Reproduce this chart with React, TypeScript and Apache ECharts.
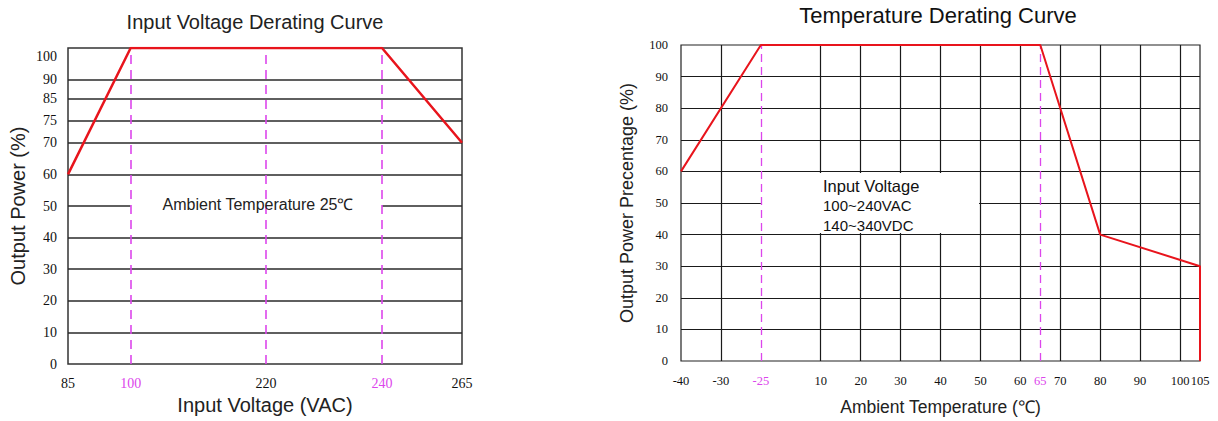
import React, { useEffect, useRef } from "react";
import * as echarts from "echarts";

// ---------- data: Input Voltage Derating Curve ----------
const VOLT_TICKS = [85, 100, 220, 240, 265];
const VOLT_MARKED = [100, 220, 240];
const VOLT_LABEL_MARKED = [100, 240];
const VOLT_CURVE_X = [85, 100, 240, 265];
const VOLT_CURVE_Y = [60, 100, 100, 70];
const POWER_TICKS_L = [0, 10, 20, 30, 40, 50, 60, 70, 75, 85, 90, 100];

// ---------- data: Temperature Derating Curve ----------
const TEMP_TICKS = [-40, -30, -25, 10, 20, 30, 40, 50, 60, 65, 70, 80, 90, 100, 105];
const TEMP_MARKED = [-25, 65];
const TEMP_GRID = [-30, 10, 20, 30, 40, 50, 60, 70, 80, 90, 100];
const TEMP_CURVE_X = [-40, -25, 65, 80, 105, 105];
const TEMP_CURVE_Y = [60, 100, 100, 40, 30, 0];
const POWER_TICKS_R = [0, 10, 20, 30, 40, 50, 60, 70, 80, 90, 100];

// ---------- schematic (non-linear) axis scales of the original drawing ----------
const VOLT_SCALE_DOMAIN = [85, 100, 220, 240, 265];
const VOLT_SCALE_RANGE = [0, 15.9, 50.25, 79.7, 100];
const POWER_L_SCALE_DOMAIN = [0, 70, 75, 85, 90, 100];
const POWER_L_SCALE_RANGE = [0, 70, 77, 84, 90, 100];
const TEMP_SCALE_DOMAIN = [-40, -30, -25, 10, 105];
const TEMP_SCALE_RANGE = [0, 1, 2, 3.5, 13];

function piecewise(domain: number[], range: number[]) {
  return (v: number) => {
    for (let i = 0; i < domain.length - 1; i++) {
      if (v <= domain[i + 1] || i === domain.length - 2) {
        const t = (v - domain[i]) / (domain[i + 1] - domain[i]);
        return range[i] + t * (range[i + 1] - range[i]);
      }
    }
    return range[range.length - 1];
  };
}
const mapV = piecewise(VOLT_SCALE_DOMAIN, VOLT_SCALE_RANGE);
const mapPL = piecewise(POWER_L_SCALE_DOMAIN, POWER_L_SCALE_RANGE);
const mapT = piecewise(TEMP_SCALE_DOMAIN, TEMP_SCALE_RANGE);

const SANS = "'Liberation Sans', Arial, sans-serif";
const SERIF = "'Liberation Serif', 'Times New Roman', serif";
const MAGENTA = "#dc46ec";
const RED = "#e8141c";

function labelFor(ticks: number[], map: (v: number) => number, marked: number[], lowered: number[] = []) {
  return (val: number) => {
    let best = ticks[0];
    let bd = Infinity;
    for (const t of ticks) {
      const d = Math.abs(map(t) - val);
      if (d < bd) {
        bd = d;
        best = t;
      }
    }
    if (lowered.includes(best)) return `{t|${best}}`;
    return marked.includes(best) ? `{m|${best}}` : `{n|${best}}`;
  };
}

export default function App() {
  const ref = useRef<HTMLDivElement>(null);

  useEffect(() => {
    document.body.style.margin = "0";
    if (!ref.current) return;
    const chart = echarts.init(ref.current, undefined, { renderer: "svg" });

    const richL = {
      n: { color: "#111", fontFamily: SERIF, fontSize: 14 },
      m: { color: MAGENTA, fontFamily: SERIF, fontSize: 14 },
      t: { color: "#111", fontFamily: SERIF, fontSize: 14, padding: [16, 0, 0, 0] },
    };
    const richR = {
      n: { color: "#111", fontFamily: SERIF, fontSize: 12.5 },
      m: { color: MAGENTA, fontFamily: SERIF, fontSize: 12.5 },
    };

    const option: any = {
      animation: false,
      backgroundColor: "#fff",
      grid: [
        { left: 68, top: 48, width: 394, height: 316, show: true, borderColor: "#333", borderWidth: 1.5, backgroundColor: "transparent" },
        { left: 681, top: 45, width: 519, height: 319, show: true, borderColor: "#222", borderWidth: 1.2, backgroundColor: "transparent" },
      ],
      xAxis: [
        {
          gridIndex: 0, type: "value", min: 0, max: 100,
          axisLine: { show: false }, axisTick: { show: false }, splitLine: { show: false },
          axisLabel: {
            customValues: VOLT_TICKS.map(mapV), margin: 12,
            formatter: labelFor(VOLT_TICKS, mapV, VOLT_LABEL_MARKED), rich: richL,
          },
          name: "Input Voltage (VAC)", nameLocation: "middle", nameGap: 31,
          nameTextStyle: { fontFamily: SANS, fontSize: 20, color: "#222" },
        },
        {
          gridIndex: 1, type: "value", min: 0, max: 13,
          axisLine: { show: false }, axisTick: { show: false }, splitLine: { show: false },
          axisLabel: {
            customValues: TEMP_TICKS.map(mapT), margin: 13,
            formatter: labelFor(TEMP_TICKS, mapT, TEMP_MARKED), rich: richR,
          },
          name: "Ambient Temperature (℃)", nameLocation: "middle", nameGap: 37,
          nameTextStyle: { fontFamily: SANS, fontSize: 17.5, color: "#222" },
        },
      ],
      yAxis: [
        {
          gridIndex: 0, type: "value", min: 0, max: 100,
          axisLine: { show: false }, axisTick: { show: false }, splitLine: { show: false },
          axisLabel: {
            customValues: POWER_TICKS_L.map(mapPL), margin: 11,
            formatter: labelFor(POWER_TICKS_L, mapPL, [], [100]), rich: richL,
          },
          name: "Output Power (%)", nameLocation: "middle", nameGap: 40,
          nameTextStyle: { fontFamily: SANS, fontSize: 20, color: "#222" },
        },
        {
          gridIndex: 1, type: "value", min: 0, max: 100, interval: 10,
          axisLine: { show: false }, axisTick: { show: false }, splitLine: { show: false },
          axisLabel: {
            customValues: POWER_TICKS_R, margin: 13,
            formatter: labelFor(POWER_TICKS_R, (v) => v, []), rich: richR,
          },
          name: "Output Power Precentage (%)", nameLocation: "middle", nameGap: 45,
          nameTextStyle: { fontFamily: SANS, fontSize: 18, color: "#222" },
        },
      ],
      series: [
        // ---- left chart ----
        {
          type: "line", xAxisIndex: 0, yAxisIndex: 0, data: [], silent: true,
          markLine: {
            silent: true, symbol: ["none", "none"], z: 1, label: { show: false },
            lineStyle: { color: "#2a2a2a", width: 1.6, type: "solid" },
            data: POWER_TICKS_L.filter((v) => v > 0 && v < 100).map((v) => ({ yAxis: mapPL(v) })),
          },
          markArea: {
            silent: true, z: 2, itemStyle: { color: "#fff" },
            data: [[{ xAxis: mapV(100), yAxis: mapPL(40) + 0.5 }, { xAxis: mapV(240), yAxis: mapPL(60) - 0.5 }]],
          },
        },
        {
          type: "line", xAxisIndex: 0, yAxisIndex: 0, data: [], silent: true,
          markLine: {
            silent: true, symbol: ["none", "none"], z: 3, label: { show: false },
            lineStyle: { color: MAGENTA, width: 1.6, type: [9, 6] },
            data: VOLT_MARKED.map((v) => ({ xAxis: mapV(v) })),
          },
        },
        {
          type: "line", xAxisIndex: 0, yAxisIndex: 0, z: 4, silent: true,
          showSymbol: false, symbol: "none",
          lineStyle: { color: RED, width: 2.5 },
          data: VOLT_CURVE_X.map((x, i) => [mapV(x), mapPL(VOLT_CURVE_Y[i])]),
        },
        // ---- right chart ----
        {
          type: "line", xAxisIndex: 1, yAxisIndex: 1, data: [], silent: true,
          markLine: {
            silent: true, symbol: ["none", "none"], z: 1, label: { show: false },
            lineStyle: { color: "#1a1a1a", width: 1.2, type: "solid" },
            data: [
              ...POWER_TICKS_R.filter((v) => v > 0 && v < 100).map((v) => ({ yAxis: v })),
              ...TEMP_GRID.map((v) => ({ xAxis: mapT(v) })),
            ],
          },
          markArea: {
            silent: true, z: 2, itemStyle: { color: "#fff" },
            data: [[{ xAxis: mapT(-25), yAxis: 40.5 }, { xAxis: mapT(50) - 0.035, yAxis: 59.5 }]],
          },
        },
        {
          type: "line", xAxisIndex: 1, yAxisIndex: 1, data: [], silent: true,
          markLine: {
            silent: true, symbol: ["none", "none"], z: 3, label: { show: false },
            lineStyle: { color: MAGENTA, width: 1.3, type: [8, 5] },
            data: TEMP_MARKED.map((v) => ({ xAxis: mapT(v) })),
          },
        },
        {
          type: "line", xAxisIndex: 1, yAxisIndex: 1, z: 4, silent: true,
          showSymbol: false, symbol: "none",
          lineStyle: { color: RED, width: 2 },
          data: TEMP_CURVE_X.map((x, i) => [mapT(x), TEMP_CURVE_Y[i]]),
        },
      ],
      graphic: [
        {
          type: "text", x: 255, y: 22, z: 10,
          style: { text: "Input Voltage Derating Curve", align: "center", verticalAlign: "middle", fontFamily: SANS, fontSize: 20, fill: "#222" },
        },
        {
          type: "text", x: 938, y: 15, z: 10,
          style: { text: "Temperature Derating Curve", align: "center", verticalAlign: "middle", fontFamily: SANS, fontSize: 22, fill: "#111" },
        },
        {
          type: "text", x: 258, y: 204, z: 10,
          style: { text: "Ambient Temperature 25℃", align: "center", verticalAlign: "middle", fontFamily: SANS, fontSize: 16, fill: "#222" },
        },
        {
          type: "text", x: 823, y: 186, z: 10,
          style: { text: "Input Voltage", align: "left", verticalAlign: "middle", fontFamily: SANS, fontSize: 16.5, fill: "#111" },
        },
        {
          type: "text", x: 823, y: 205.5, z: 10,
          style: { text: "100~240VAC", align: "left", verticalAlign: "middle", fontFamily: SANS, fontSize: 15, fill: "#111" },
        },
        {
          type: "text", x: 823, y: 225, z: 10,
          style: { text: "140~340VDC", align: "left", verticalAlign: "middle", fontFamily: SANS, fontSize: 15, fill: "#111" },
        },
      ],
    };

    chart.setOption(option);
    return () => chart.dispose();
  }, []);

  return <div ref={ref} style={{ width: 1218, height: 421 }} />;
}
